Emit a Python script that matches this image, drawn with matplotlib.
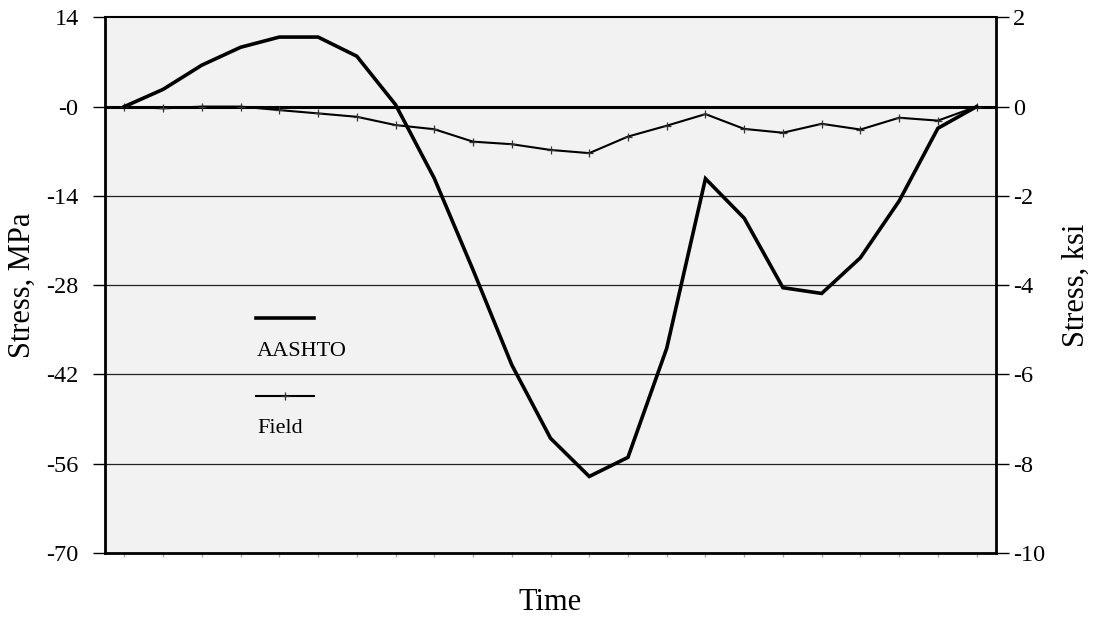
import matplotlib
matplotlib.use("Agg")
import matplotlib.pyplot as plt
from matplotlib.lines import Line2D
import numpy as np

# ---- data (MPa) ----
aashto = [0.0, 2.7, 6.5, 9.3, 10.9, 10.9, 7.9, 0.3, -11.25, -25.6, -40.5, -52.0,
          -58.0, -55.0, -37.9, -11.3, -17.5, -28.4, -29.3, -23.7, -14.8, -3.4, 0.0]
field = [0.0, -0.28, 0.0, 0.0, -0.55, -1.07, -1.6, -2.9, -3.55, -5.5, -5.9, -6.8,
         -7.3, -4.7, -3.0, -1.18, -3.5, -4.1, -2.7, -3.6, -1.75, -2.2, 0.0]
left_ticks = [14, 0, -14, -28, -42, -56, -70]
left_labels = ["14", "-0", "-14", "-28", "-42", "-56", "-70"]
right_ticks = [2, 0, -2, -4, -6, -8, -10]
right_labels = ["2", "0", "-2", "-4", "-6", "-8", "-10"]
series_names = ["AASHTO", "Field"]

plt.rcParams['font.family'] = ['Liberation Serif', 'DejaVu Serif']

fig = plt.figure(figsize=(10.94, 6.17), dpi=100)
ax = fig.add_axes([105/1094, 1-553/617, 891/1094, 535.7/617])
ax.set_facecolor('#f2f2f2')

x = np.arange(len(aashto))
ax.set_xlim(-0.5, len(aashto) - 0.5)
ax.set_ylim(-70, 14)

# gridlines
for t in left_ticks[2:-1]:
    ax.axhline(t, color='#222222', lw=0.9, zorder=1)
ax.axhline(0, color='black', lw=2.2, zorder=2)

ax.plot(x, aashto, color='black', lw=2.6, zorder=4, solid_joinstyle='miter')
ax.plot(x, field, color='black', lw=1.5, marker='+', ms=6, mew=0.9,
        mec='#333333', zorder=3)

ax.set_yticks(left_ticks)
ax.set_yticklabels(left_labels)
ax.tick_params(axis='y', direction='out', length=9, width=1, pad=10,
               labelsize=17.5, colors='black')
ax.set_xticks(x)
ax.set_xticklabels([])
ax.tick_params(axis='x', direction='out', length=3, width=1, color='#aaaaaa')

for s in ['left', 'bottom', 'right']:
    ax.spines[s].set_linewidth(2.0)
ax.spines['top'].set_linewidth(1.5)

ax2 = ax.twinx()
ax2.set_ylim(-10, 2)
ax2.set_yticks(right_ticks)
ax2.set_yticklabels(right_labels)
ax2.tick_params(axis='y', direction='out', length=9, width=1, pad=3,
                labelsize=17.5)
for s in ax2.spines.values():
    s.set_visible(False)

ax.set_ylabel("Stress, MPa", fontsize=22)
ax.yaxis.set_label_coords(-0.093, 0.5)
ax.yaxis.label.set_va('center')
ax2.set_ylabel("Stress, ksi", fontsize=22, rotation=90)
ax2.yaxis.set_label_coords(1.0898, 0.5)
ax2.yaxis.label.set_va('center')
ax.set_xlabel("Time", fontsize=22)
ax.xaxis.set_label_coords(0.5, -(602-553)/535.7)
ax.xaxis.label.set_va('center')

# legend drawn manually
ax.add_line(Line2D([0.170, 0.2346], [0.4392, 0.4392], transform=ax.transAxes,
                   color='black', lw=2.6, zorder=5))
ax.text(0.1706, 0.376, series_names[0], transform=ax.transAxes, fontsize=16,
        ha='left', va='center')
ax.add_line(Line2D([0.170, 0.2346], [0.2936, 0.2936], transform=ax.transAxes,
                   color='black', lw=1.5, zorder=5))
ax.add_line(Line2D([0.202], [0.2936], transform=ax.transAxes, marker='+',
                   ms=6, mew=0.9, color='#333333', lw=0, zorder=6))
ax.text(0.1706, 0.2333, series_names[1], transform=ax.transAxes, fontsize=16,
        ha='left', va='center')

fig.savefig("out.png", dpi=100)
